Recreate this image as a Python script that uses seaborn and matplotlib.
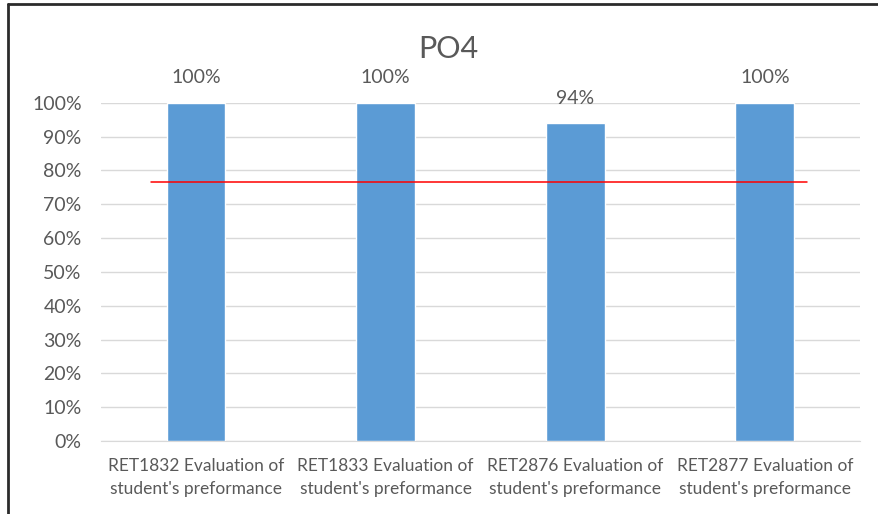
import pandas as pd
import numpy as np
import matplotlib
matplotlib.use("Agg")
import matplotlib.pyplot as plt
from matplotlib.lines import Line2D
import seaborn as sns

# Data
courses = [
    "RET1832 Evaluation of\nstudent's preformance",
    "RET1833 Evaluation of\nstudent's preformance",
    "RET2876 Evaluation of\nstudent's preformance",
    "RET2877 Evaluation of\nstudent's preformance",
]
scores = [1.00, 1.00, 0.94, 1.00]
target = 0.767
y_ticks = [0.0, 0.1, 0.2, 0.3, 0.4, 0.5, 0.6, 0.7, 0.8, 0.9, 1.0]

df = pd.DataFrame({"Course": courses, "Score": scores})

sns.set_style("white")
plt.rcParams["font.family"] = ["Lato", "DejaVu Sans"]

text_color = "#595959"
bar_color = "#5B9BD5"

fig = plt.figure(figsize=(8.79, 5.14), dpi=100)
ax = fig.add_axes([0.115, 0.142, 0.863, 0.658])

sns.barplot(data=df, x="Course", y="Score", color=bar_color, width=0.31,
            saturation=1, ax=ax, zorder=3)

# Data labels
for i, v in enumerate(scores):
    ax.annotate(f"{v:.0%}", (i, v), xytext=(0, 18), textcoords="offset points",
                ha="center", va="center", fontsize=14, color=text_color)

# Target line
ax.axhline(target, xmin=0.066, xmax=0.930, color="red", linewidth=1.1, zorder=4)

ax.set_ylim(0, 1)
ax.set_xlim(-0.5, len(courses) - 0.5)
ax.set_yticks(y_ticks)
ax.set_yticklabels([f"{t:.0%}" for t in y_ticks])
ax.grid(axis="y", color="#D9D9D9", linewidth=1, zorder=0)
ax.set_axisbelow(True)
for s in ["top", "right", "left"]:
    ax.spines[s].set_visible(False)
ax.spines["bottom"].set_color("#D9D9D9")
ax.tick_params(axis="y", length=0, labelsize=14, labelcolor=text_color, pad=14)
ax.tick_params(axis="x", length=0, labelsize=12.5, labelcolor=text_color, pad=12.5)
for lbl in ax.get_xticklabels():
    lbl.set_linespacing(1.5)
ax.set_xlabel("")
ax.set_ylabel("")

fig.text(0.51, 0.905, "PO4", ha="center", va="center", fontsize=22, color=text_color)

# Frame lines (top and left)
fig.add_artist(Line2D([0.009, 1.0], [0.992, 0.992], transform=fig.transFigure,
                      color="#2b2b2b", linewidth=2))
fig.add_artist(Line2D([0.009, 0.009], [0.0, 0.992], transform=fig.transFigure,
                      color="#2b2b2b", linewidth=2))

fig.savefig("out.png", dpi=100)
